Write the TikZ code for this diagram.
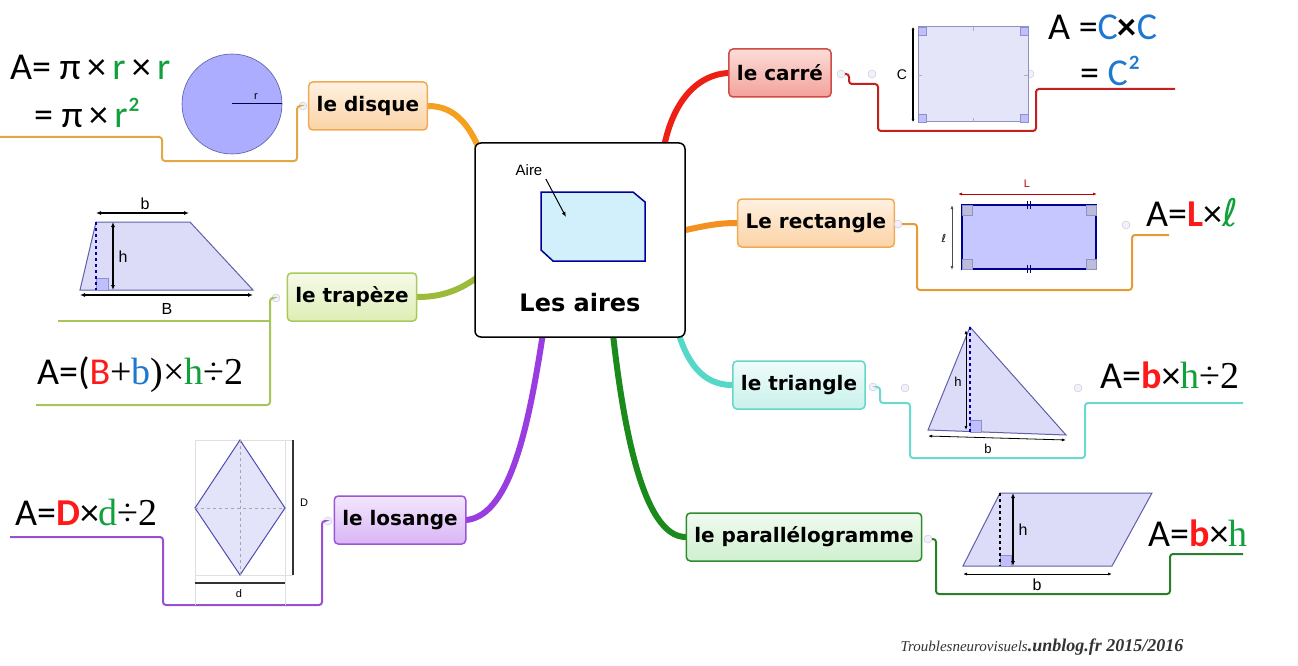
\documentclass[tikz,border=0pt]{standalone}
\usepackage{fontspec}
\usetikzlibrary{backgrounds,arrows.meta}

\newfontfamily\labelfont{DejaVu Sans}
\newfontfamily\formfont{Carlito}
\newfontfamily\serifform{Liberation Serif}
\newfontfamily\dimfont{Liberation Sans}

\definecolor{fgreen}{HTML}{12A03C}
\definecolor{fblue}{HTML}{1F78D0}
\definecolor{fred}{HTML}{FF1A1A}
\definecolor{figfill}{HTML}{DCDCF8}
\definecolor{figedge}{HTML}{6060A8}
% topic colours
\definecolor{dsqTop}{HTML}{FFF1E0}\definecolor{dsqBot}{HTML}{FBD3A6}\definecolor{dsqEdge}{HTML}{F0AA55}
\definecolor{trpTop}{HTML}{F6FBE8}\definecolor{trpBot}{HTML}{DDEEB5}\definecolor{trpEdge}{HTML}{A9C95A}
\definecolor{losTop}{HTML}{F3E6FD}\definecolor{losBot}{HTML}{DAB5F5}\definecolor{losEdge}{HTML}{9B55D6}
\definecolor{carTop}{HTML}{FCDCD8}\definecolor{carBot}{HTML}{F3A29B}\definecolor{carEdge}{HTML}{D24A44}
\definecolor{triTop}{HTML}{EFFCFA}\definecolor{triBot}{HTML}{C9F1EB}\definecolor{triEdge}{HTML}{66D6CA}
\definecolor{parTop}{HTML}{F0FBF0}\definecolor{parBot}{HTML}{CFEFCF}\definecolor{parEdge}{HTML}{2E8B2E}
% branch colours
\definecolor{dsqB}{HTML}{F5A020}\definecolor{trpB}{HTML}{9CBB3C}\definecolor{losB}{HTML}{9A3DE0}
\definecolor{carB}{HTML}{EE2015}\definecolor{recB}{HTML}{F39020}\definecolor{triB}{HTML}{55D8C8}
\definecolor{parB}{HTML}{1A8A1A}
% sub line colours
\definecolor{dsqS}{HTML}{E2A845}\definecolor{trpS}{HTML}{A6C65A}\definecolor{losS}{HTML}{9A4FD3}
\definecolor{carS}{HTML}{C42020}\definecolor{recS}{HTML}{E89A35}\definecolor{triS}{HTML}{6AD9CF}
\definecolor{parS}{HTML}{2A7F2A}

\newcommand{\gr}[1]{\textcolor{fgreen}{#1}}
\newcommand{\bl}[1]{\textcolor{fblue}{#1}}
\newcommand{\rd}[1]{\textcolor{fred}{#1}}

\tikzset{
  topic/.style n args={3}{draw=#3, line width=1.5pt, rounded corners=4pt,
    top color=#1, bottom color=#2, minimum height=48pt, inner xsep=8pt,
    font=\labelfont\bfseries\fontsize{20}{24}\selectfont},
  branch/.style={line width=6pt, line cap=round, draw=#1},
  subline/.style={line width=2pt, rounded corners=3pt, draw=#1},
  marker/.style={circle, draw=gray!45, fill=blue!6, inner sep=0pt, minimum size=8pt},
  figure/.style={fill=figfill, draw=figedge, line width=1pt},
  corner/.style={fill=blue!25, draw=figedge!70, line width=0.6pt},
  dim/.style={{Latex[length=5pt,width=4pt]}-{Latex[length=5pt,width=4pt]}, line width=1.2pt},
  dimlabel/.style={font=\dimfont\fontsize{16}{18}\selectfont, inner sep=1pt},
  smalllabel/.style={font=\dimfont\fontsize{11}{13}\selectfont, inner sep=1pt},
  formula/.style={font=\formfont\fontsize{38}{42}\selectfont, anchor=west, inner sep=0pt},
}

\begin{document}
\begin{tikzpicture}[x=1pt,y=-1pt]
\useasboundingbox (0,0) rectangle (1298,666);

% centre
\node[draw, line width=1.5pt, rounded corners=6pt, fill=white,
      minimum width=210pt, minimum height=194pt] (hub) at (580,240) {};
\draw[fill=cyan!18, draw=blue!60!black, line width=1.5pt]
  (541,192) -- (633,192) -- (645,202) -- (645,261) -- (553,261) -- (541,250) -- cycle;
\node[font=\dimfont\fontsize{15}{18}\selectfont] (airelbl) at (529,170) {Aire};
\coordinate (airept) at (566,217);
\draw[-{Latex[length=5pt,width=4pt]}, line width=1pt] (airelbl.south east) -- (airept);
\node[font=\labelfont\bfseries\fontsize{24}{28}\selectfont] (title) at (580,303) {Les aires};

% topics
\node[topic={dsqTop}{dsqBot}{dsqEdge}] (disque) at (368,106) {le disque};
\node[topic={trpTop}{trpBot}{trpEdge}] (trapeze) at (352,297) {le trapèze};
\node[topic={losTop}{losBot}{losEdge}] (losange) at (400,520) {le losange};
\node[topic={carTop}{carBot}{carEdge}] (carre) at (780,73) {le carré};
\node[topic={dsqTop}{dsqBot}{dsqEdge}] (rectangle) at (816,223) {Le rectangle};
\node[topic={triTop}{triBot}{triEdge}] (triangle) at (799,385) {le triangle};
\node[topic={parTop}{parBot}{parEdge}] (para) at (804,537) {le parallélogramme};

% main branches
\begin{scope}[on background layer]
\draw[branch=dsqB] (disque.east) .. controls (455,106) and (472,125) .. (485,165);
\draw[branch=trpB] (trapeze.east) .. controls (450,297) and (468,285) .. (490,268);
\draw[branch=losB] (losange.east) .. controls (512,515) and (530,420) .. (545,320);
\draw[branch=carB] (carre.west) .. controls (692,75) and (668,110) .. (662,160);
\draw[branch=recB] (rectangle.west) .. controls (712,223) and (698,228) .. (675,232);
\draw[branch=triB] (triangle.west) .. controls (702,385) and (686,362) .. (676,325);
\draw[branch=parB] (para.west) .. controls (642,537) and (622,420) .. (612,325);
\end{scope}

% markers
\node[marker] (dsq-mk) at (303,106) {};
\node[marker] (trp-mk) at (276,298) {};
\node[marker] (los-mk) at (328,521) {};
\node[marker] (car-mk) at (841,74) {};
\node[marker] (car-mk2) at (872,74) {};
\node[marker] (car-mk3) at (1030,74) {};
\node[marker] (rec-mk) at (898,224) {};
\node[marker] (rec-mk2) at (1126,225) {};
\node[marker] (tri-mk) at (873,387) {};
\node[marker] (tri-mk2) at (905,388) {};
\node[marker] (tri-mk3) at (1078,388) {};
\node[marker] (par-mk) at (928,539) {};

% sub branches
\coordinate (dsq-end) at (0,137);
\coordinate (trp-fork) at (270,321);
\coordinate (trp-end) at (36,405);
\coordinate (trp-end2) at (58,321);
\coordinate (los-end) at (10,537);
\coordinate (car-end) at (1175,89);
\coordinate (rec-end) at (1169,235);
\coordinate (tri-end) at (1243,403);
\coordinate (par-end) at (1243,554);
\draw[subline=dsqS] (dsq-mk.west) -| (297,161) -| (162,137) -- (dsq-end);
\draw[subline=trpS] (trp-mk.west) -| (270,405) -- (trp-end);
\draw[subline=trpS] (trp-fork) -- (trp-end2);
\draw[subline=losS] (los-mk.west) -| (322,605) -| (163,537) -- (los-end);
\draw[subline=carS] (car-mk.east) -| (849,84) -| (878,131) -| (1036,89) -- (car-end);
\draw[subline=recS] (rec-mk.east) -| (917,290) -| (1132,235) -- (rec-end);
\draw[subline=triS] (tri-mk.east) -| (880,403) -| (910,458) -| (1085,403) -- (tri-end);
\draw[subline=parS] (par-mk.east) -| (936,594) -| (1170,554) -- (par-end);

% disque
\fill[fill=blue!32!white, draw=blue!30!gray, line width=0.6pt] (232,104) circle[radius=50pt];
\draw[line width=1pt, blue!30!black] (232,104) -- (282,104);
\node[smalllabel] (r-lbl) at (256,97) {r};
\node[formula] (dsq-f1) at (10,67) {A= π\,×\,\gr{r}\,×\,\gr{r}};
\node[formula] (dsq-f2) at (34,113) {= π\,×\,\gr{r²}};

% trapeze
\draw[figure] (80,290) -- (96,222) -- (190,222) -- (253,290) -- cycle;
\draw[corner] (96,290) rectangle (108,278);
\draw[dashed, blue!70!black, line width=1.2pt] (96,222) -- (96,290);
\coordinate (tb-l) at (96,213); \coordinate (tb-r) at (189,213);
\draw[dim] (tb-l) -- (tb-r);
\node[dimlabel] (b-lbl) at (145,204) {b};
\coordinate (th-t) at (113,222); \coordinate (th-b) at (113,290);
\draw[dim] (th-t) -- (th-b);
\node[dimlabel] (h-lbl) at (123,257) {h};
\coordinate (tB-l) at (80,295); \coordinate (tB-r) at (253,295);
\draw[dim] (tB-l) -- (tB-r);
\node[dimlabel] (B-lbl) at (167,309) {B};
\node[formula] (trp-f) at (37,375) {A=(\rd{B}{\serifform +\bl{b})×\gr{h}÷2}};

% losange
\draw[gray!25, line width=0.6pt] (195,440) -- (195,605) (285,440) -- (285,605) (195,440) -- (293,440) (195,575) -- (293,575);
\draw[figure, fill=figfill!80, draw=gray!60!blue] (240,440) -- (285,508) -- (240,575) -- (195,508) -- cycle;
\draw[dashed, gray!70, line width=0.7pt] (240,440) -- (240,575) (195,508) -- (285,508);
\draw[line width=2pt, black!80] (293,440) -- (293,575);
\node[smalllabel] (D-lbl) at (304,503) {D};
\draw[line width=2pt, black!80] (195,583) -- (285,583);
\node[smalllabel] (d-lbl) at (239,594) {d};
\node[formula] (los-f) at (15,512) {A=\rd{\bfseries D}×{\serifform\gr{d}÷2}};

% carre
\draw[figure, fill=figfill!75, draw=figedge!70] (918,27) rectangle (1028,122);
\foreach \cx/\cy/\dx/\dy in {918/27/1/1, 1028/27/-1/1, 918/122/1/-1, 1028/122/-1/-1}
  \draw[corner] (\cx,\cy) rectangle ++(8*\dx,8*\dy);
\foreach \tx/\ty/\ux/\uy in {973/27/0/4, 973/122/0/-4, 918/75/4/0, 1028/75/-4/0}
  \draw[gray!60, line width=0.6pt] (\tx,\ty) -- ++(\ux,\uy);
\draw[{Latex[length=3pt,width=3pt]}-{Latex[length=3pt,width=3pt]}, line width=2pt] (913,27) -- (913,122);
\node[smalllabel, font=\dimfont\fontsize{14}{16}\selectfont] (C-lbl) at (902,75) {C};
\node[formula] (car-f1) at (1048,27) {A =\bl{C}\textbf{×}\bl{C}};
\node[formula] (car-f2) at (1080,71) {= \bl{C²}};

% rectangle
\draw[fill=blue!22, draw=blue!55!black, line width=1.5pt] (962,205) rectangle (1096,269);
\foreach \cx/\cy/\dx/\dy in {962/205/1/1, 1096/205/-1/1, 962/269/1/-1, 1096/269/-1/-1}
  \draw[corner, fill=blue!30!gray!40] (\cx,\cy) rectangle ++(10*\dx,10*\dy);
\foreach \tx in {1027,1030}
  \draw[blue!50!black, line width=0.8pt] (\tx,201) -- (\tx,209) (\tx,265) -- (\tx,273);
\draw[{Latex[length=4pt,width=3pt]}-{Latex[length=4pt,width=3pt]}, red!75!black, line width=0.8pt] (958,194) -- (1097,194);
\node[smalllabel, text=red!75!black] (L-lbl) at (1027,184) {L};
\draw[{Latex[length=4pt,width=3pt]}-{Latex[length=4pt,width=3pt]}, black!70, line width=0.8pt] (952,205) -- (952,270);
\node[smalllabel] (l-lbl) at (944,238) {\labelfont ℓ};
\node[formula] (rec-f) at (1146,213) {A=\rd{\bfseries L}×\gr{\labelfont ℓ}};

% triangle
\draw[figure] (970,327) -- (1066,435) -- (928,430) -- cycle;
\draw[corner] (970,432) rectangle (981,420);
\draw[dashed, blue!70!black, line width=1.2pt] (970,327) -- (970,432);
\draw[{Latex[length=4pt,width=3pt]}-{Latex[length=4pt,width=3pt]}, line width=0.8pt] (966,330) -- (966,430);
\node[smalllabel, font=\dimfont\fontsize{13}{15}\selectfont] (th-lbl) at (958,382) {h};
\draw[{Latex[length=4pt,width=3pt]}-{Latex[length=4pt,width=3pt]}, line width=0.8pt] (928,436) -- (1066,440);
\node[smalllabel, font=\dimfont\fontsize{13}{15}\selectfont] (tb-lbl) at (988,449) {b};
\node[formula] (tri-f) at (1100,375) {A=\rd{\bfseries b}×{\serifform\gr{h}÷2}};

% parallelogramme
\draw[figure] (963,566) -- (1000,493) -- (1152,493) -- (1112,566) -- cycle;
\draw[corner] (1000,566) rectangle (1011,555);
\draw[dashed, black, line width=1.2pt] (1000,493) -- (1000,566);
\draw[dim] (1013,493) -- (1013,566);
\node[dimlabel] (ph-lbl) at (1023,530) {h};
\draw[{Latex[length=4pt,width=3pt]}-{Latex[length=4pt,width=3pt]}, line width=0.8pt] (963,574) -- (1112,574);
\node[dimlabel] (pb-lbl) at (1037,585) {b};
\node[formula] (par-f) at (1148,533) {A=\rd{\bfseries b}×{\serifform\gr{h}}};

% signature
\node[anchor=west, font=\serifform\itshape\fontsize{15}{17}\selectfont, text=black!80] (sig) at (897,647)
  {Troublesneurovisuels{\bfseries\fontsize{18}{20}\selectfont .unblog.fr 2015/2016}};

\end{tikzpicture}
\end{document}
